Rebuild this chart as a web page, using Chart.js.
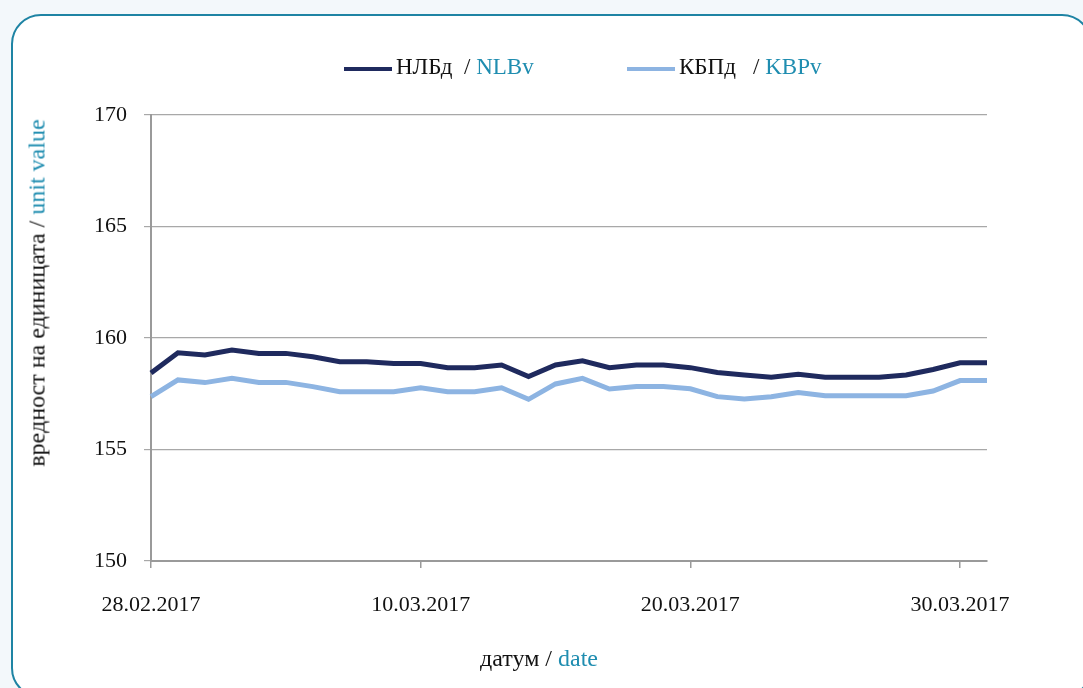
<!DOCTYPE html>
<html>
<head>
<meta charset="utf-8">
<script src="https://cdn.jsdelivr.net/npm/chart.js@4/dist/chart.umd.min.js"></script>
<style>
  html, body { margin: 0; padding: 0; }
  body {
    width: 1083px; height: 688px; overflow: hidden; position: relative;
    background: #f3f8fb;
    font-family: 'Liberation Serif', 'DejaVu Serif', serif;
  }
  .panel {
    position: absolute; left: 11px; top: 14px; width: 1077px; height: 680px;
    background: #fff; border: 2px solid #1e84a4; border-radius: 30px;
  }
  .wrap { position: absolute; left: 0; top: 0; width: 1083px; height: 688px; }
  .en { color: #1f8db0; }
  .lg { position: absolute; top: 54px; font-size: 23px; color: #111; white-space: nowrap; }
  .lg .swatch { display: inline-block; width: 48px; height: 4px; vertical-align: middle; margin-right: 4px; }
  .ytitle {
    position: absolute; left: 37px; top: 293px; font-size: 24px; color: #111; white-space: nowrap;
    transform: translate(-50%, -50%) rotate(-90deg);
  }
  .xtitle { position: absolute; left: 539px; top: 658px; font-size: 24px; color: #111; white-space: nowrap; transform: translate(-50%, -50%); }
</style>
</head>
<body>
<div class="panel"></div>
<div class="wrap"><canvas id="chart" width="1083" height="688"></canvas></div>

<div class="lg" style="left:344px"><span class="swatch" style="background:#1f2a5e"></span>НЛБд&nbsp; / <span class="en">NLBv</span></div>
<div class="lg" style="left:627px"><span class="swatch" style="background:#8db4e2"></span>КБПд&nbsp;&nbsp; / <span class="en">KBPv</span></div>
<div class="ytitle">вредност на единицата / <span class="en">unit value</span></div>
<div class="xtitle">датум / <span class="en">date</span></div>

<script>
// dates, one point per calendar day
const dates = [
  '28.02.2017', '01.03.2017', '02.03.2017', '03.03.2017', '04.03.2017', '05.03.2017',
  '06.03.2017', '07.03.2017', '08.03.2017', '09.03.2017', '10.03.2017', '11.03.2017',
  '12.03.2017', '13.03.2017', '14.03.2017', '15.03.2017', '16.03.2017', '17.03.2017',
  '18.03.2017', '19.03.2017', '20.03.2017', '21.03.2017', '22.03.2017', '23.03.2017',
  '24.03.2017', '25.03.2017', '26.03.2017', '27.03.2017', '28.03.2017', '29.03.2017',
  '30.03.2017', '31.03.2017'
];

// НЛБд / NLBv
const nlbv = [
  158.43, 159.34, 159.24, 159.46, 159.31, 159.31, 159.16, 158.94, 158.94, 158.86,
  158.86, 158.67, 158.67, 158.79, 158.27, 158.79, 158.98, 158.67, 158.79, 158.79,
  158.67, 158.45, 158.34, 158.24, 158.37, 158.24, 158.24, 158.24, 158.34, 158.59,
  158.89, 158.89
];

// КБПд / KBPv
const kbpv = [
  157.37, 158.12, 158.00, 158.19, 158.01, 158.01, 157.82, 157.59, 157.59, 157.59,
  157.77, 157.59, 157.59, 157.77, 157.25, 157.94, 158.19, 157.71, 157.82, 157.82,
  157.72, 157.37, 157.26, 157.37, 157.56, 157.41, 157.41, 157.41, 157.41, 157.62,
  158.09, 158.09
];

const yTicks = [150, 155, 160, 165, 170];
const shownDateIdx = [0, 10, 20, 30];

const tickFont = { family: "'Liberation Serif', serif", size: 22 };

new Chart(document.getElementById('chart'), {
  type: 'line',
  data: {
    labels: dates,
    datasets: [
      {
        label: 'НЛБд / NLBv',
        data: nlbv,
        borderColor: '#1f2a5e',
        borderWidth: 5,
        pointRadius: 0,
        tension: 0,
        fill: false
      },
      {
        label: 'КБПд / KBPv',
        data: kbpv,
        borderColor: '#8db4e2',
        borderWidth: 5,
        pointRadius: 0,
        tension: 0,
        fill: false
      }
    ]
  },
  options: {
    responsive: false,
    animation: false,
    layout: { padding: { top: 115, right: 96, left: 0, bottom: 0 } },
    plugins: {
      legend: { display: false },
      tooltip: { enabled: false }
    },
    scales: {
      x: {
        type: 'category',
        offset: false,
        afterBuildTicks: (scale) => {
          scale.ticks = scale.ticks.filter(t => shownDateIdx.includes(t.value));
        },
        afterFit: (scale) => { scale.height = 127; },
        grid: {
          drawOnChartArea: false,
          tickLength: 7,
          color: '#9a9a9a',
          lineWidth: 1.5
        },
        border: { color: '#9a9a9a', width: 2 },
        ticks: {
          autoSkip: false,
          maxRotation: 0,
          padding: 24,
          color: '#111',
          font: tickFont,
          callback: function(value) { return this.getLabelForValue(value); }
        }
      },
      y: {
        min: 150,
        max: 170,
        afterBuildTicks: (scale) => {
          scale.ticks = yTicks.map(v => ({ value: v }));
        },
        afterFit: (scale) => { scale.width = 151; },
        grid: {
          color: '#a8a8a8',
          lineWidth: 1.2,
          tickLength: 7
        },
        border: { color: '#9a9a9a', width: 2 },
        ticks: {
          padding: 17,
          color: '#111',
          font: tickFont
        }
      }
    }
  }
});
</script>
</body>
</html>
